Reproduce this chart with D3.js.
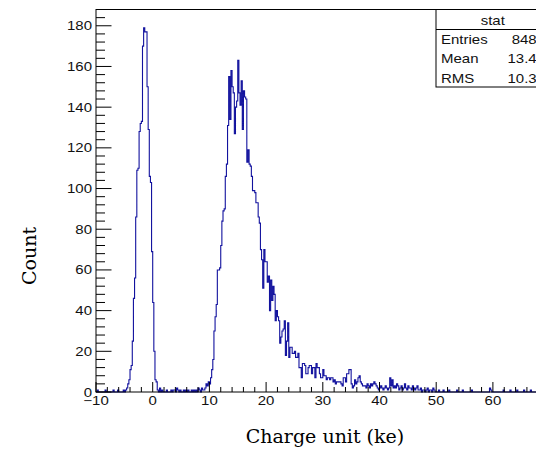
<!DOCTYPE html>
<html>
<head>
<meta charset="utf-8">
<style>
  body { margin: 0; background: #fff; }
  svg { display: block; }
</style>
</head>
<body>
<svg width="536" height="454" id="chart"></svg>
<script src="https://cdnjs.cloudflare.com/ajax/libs/d3/7.8.5/d3.min.js"></script>
<script>

// histogram: 400 bins of 0.2 ke from -10 to 70
const binStart = -10, binWidth = 0.2

const counts = [
  0,1,0,0,0,0,0,0,1,0,0,0,0,0,0,1,0,0,0,1,
  0,0,0,0,1,0,1,2,4,6,11,13,25,46,56,86,109,110,128,132,
  133,170,179,177,177,150,129,106,103,69,44,20,6,5,1,0,2,0,1,0,
  0,0,1,0,0,0,1,0,1,1,0,2,1,0,1,0,0,1,0,1,
  0,1,0,0,1,0,1,0,1,0,2,1,0,2,1,1,2,4,3,5,
  4,7,11,16,30,37,43,60,60,61,72,84,89,90,106,112,131,155,134,158,
  150,147,127,140,143,163,147,141,153,129,148,145,144,113,119,112,111,106,99,99,
  98,93,93,86,83,70,65,51,70,64,64,54,57,40,55,45,52,48,35,40,
  37,35,24,27,30,31,35,18,25,34,17,22,22,19,19,20,17,17,19,12,
  12,7,14,14,13,9,9,12,13,13,9,12,12,7,14,12,12,9,7,7,
  11,8,8,6,7,7,6,7,7,5,6,4,5,5,5,5,4,3,7,7,
  5,9,9,11,11,4,2,3,6,4,5,7,8,5,4,3,3,3,2,4,
  3,2,4,3,4,5,4,3,2,1,2,3,2,1,2,3,2,1,2,7,
  3,6,2,3,2,4,3,1,2,3,1,2,4,2,1,3,2,2,1,3,
  2,1,2,3,1,1,2,0,1,1,0,1,2,0,1,1,0,2,1,0,
  0,0,1,0,0,0,1,0,0,0,0,1,0,0,0,0,0,0,1,0,
  0,0,0,1,0,0,0,0,0,0,0,1,0,0,0,0,0,0,0,0,
  0,0,0,0,0,0,0,2,1,0,0,0,0,0,0,0,0,0,0,1,
  0,0,0,0,0,1,0,0,0,0,0,1,0,0,0,0,0,1,0,0,
  0,0,0,1,0,0,0,0,0,0,0,1,0,0,0,0,0,0,0,0
]

const xTicks = [-10, 0, 10, 20, 30, 40, 50, 60]
const yTicks = [0, 20, 40, 60, 80, 100, 120, 140, 160, 180]
const statNames = ['Entries', 'Mean', 'RMS']
const statValues = ['8480', '13.47', '10.35']

const svg = d3.select('#chart')
const pLeft = 96, pRight = 549.6, pTop = 9.5, pBottom = 392

const x = d3.scaleLinear().domain([-10, 70]).range([pLeft, pRight])
const y = d3.scaleLinear().domain([0, 188]).range([pBottom, pTop])

// ROOT text looks horizontally stretched in the picture
function rootText(g, px, py, str, anchor) {
  return g.append('text')
    .attr('transform', 'translate(' + px + ',' + py + ') scale(1.2,1)')
    .attr('text-anchor', anchor)
    .attr('font-family', 'Liberation Sans, Arial, sans-serif')
    .attr('font-size', '12.5px')
    .attr('fill', '#111')
    .text(str)
}

// histogram outline
const pts = counts.map((c, i) => [binStart + i * binWidth, c])
pts.push([binStart + counts.length * binWidth, counts[counts.length - 1]])
const line = d3.line().x(d => x(d[0])).y(d => y(d[1])).curve(d3.curveStepAfter)

svg.append('path')
  .datum(pts)
  .attr('d', line)
  .attr('fill', 'none')
  .attr('stroke', '#12129e')
  .attr('stroke-width', 1.1)

// frame
svg.append('rect')
  .attr('x', pLeft).attr('y', pTop)
  .attr('width', pRight - pLeft).attr('height', pBottom - pTop)
  .attr('fill', 'none').attr('stroke', '#000').attr('stroke-width', 1)

// x axis ticks (pointing up into the plot)
const xMinor = d3.range(-10, 70.01, 2)
svg.append('g').selectAll('line').data(xMinor).enter().append('line')
  .attr('x1', d => x(d)).attr('x2', d => x(d))
  .attr('y1', pBottom)
  .attr('y2', d => pBottom - (d % 10 === 0 ? 10 : 5))
  .attr('stroke', '#000')

// y axis ticks (pointing right)
const yMinor = d3.range(0, 188, 4)
svg.append('g').selectAll('line').data(yMinor).enter().append('line')
  .attr('y1', d => y(d)).attr('y2', d => y(d))
  .attr('x1', pLeft)
  .attr('x2', d => pLeft + (d % 20 === 0 ? 15.5 : 9))
  .attr('stroke', '#000')

const labels = svg.append('g')
xTicks.forEach(t => rootText(labels, x(t), 405, t === -10 ? '\u221210' : String(t), 'middle'))
yTicks.forEach(t => rootText(labels, 92, y(t) + 4.5, String(t), 'end'))

// stat box
const box = svg.append('g')
box.append('rect')
  .attr('x', 436).attr('y', pTop).attr('width', pRight - 436).attr('height', 87 - pTop)
  .attr('fill', '#fff').attr('stroke', '#000')
box.append('line')
  .attr('x1', 436).attr('x2', pRight).attr('y1', 29.5).attr('y2', 29.5)
  .attr('stroke', '#000')
rootText(box, (436 + pRight) / 2, 25, 'stat', 'middle')
statNames.forEach((s, i) => {
  rootText(box, 441, 43.5 + i * 19.5, s, 'start')
  rootText(box, 545, 43.5 + i * 19.5, statValues[i], 'end')
})

// axis titles
svg.append('text')
  .attr('transform', 'translate(36,256) rotate(-90)')
  .attr('text-anchor', 'middle')
  .attr('font-family', 'DejaVu Serif, serif')
  .attr('font-size', '19px')
  .text('Count')

svg.append('text')
  .attr('x', 325).attr('y', 443)
  .attr('text-anchor', 'middle')
  .attr('font-family', 'DejaVu Serif, serif')
  .attr('font-size', '19px')
  .text('Charge unit (ke)')

</script>
</body>
</html>
